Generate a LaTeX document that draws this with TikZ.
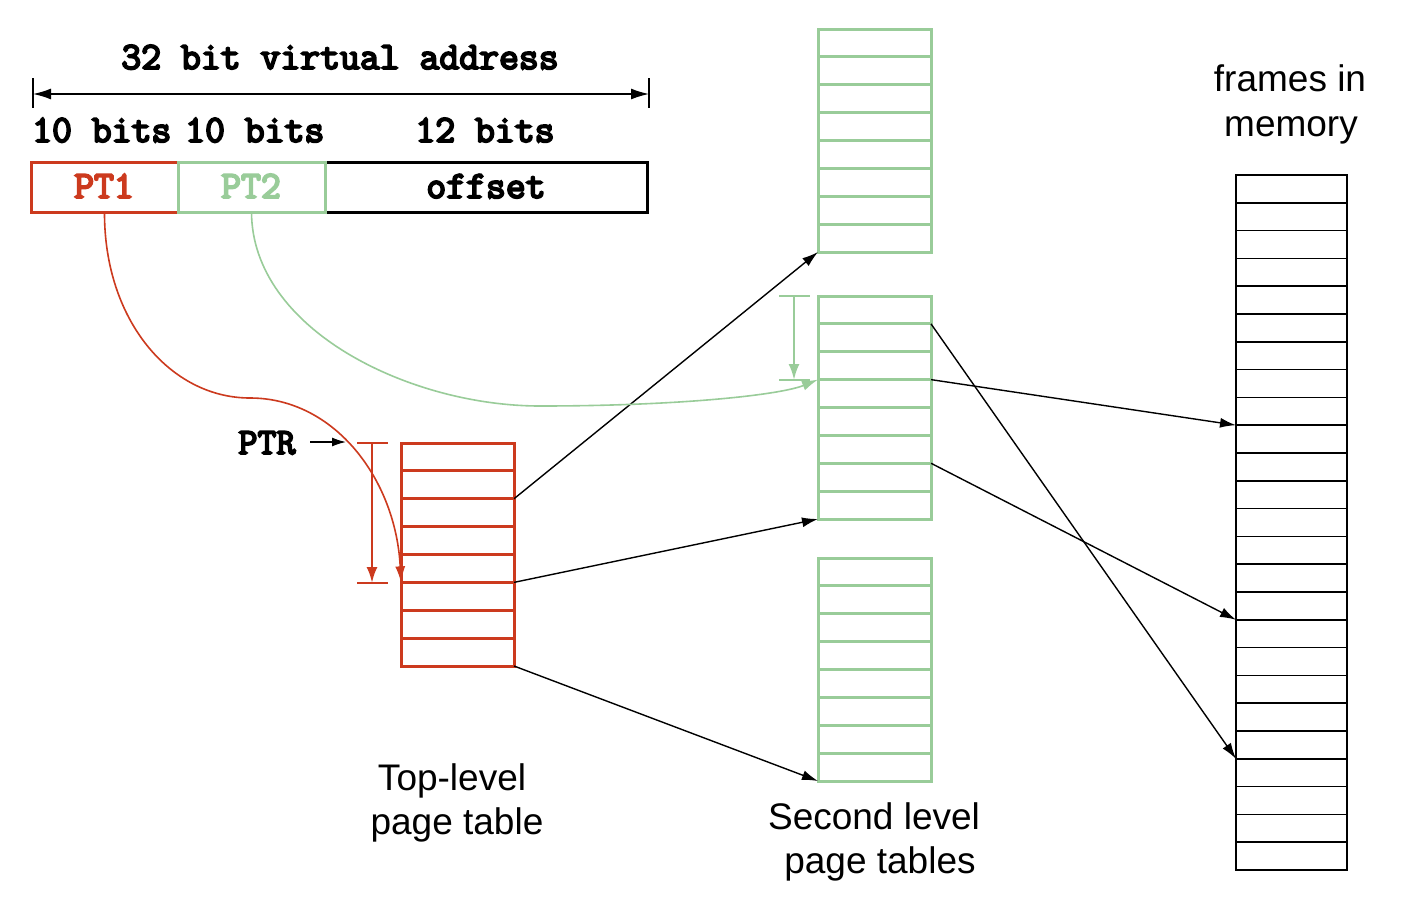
\documentclass[tikz,border=0pt]{standalone}
\usepackage{fontspec}
\setmainfont{Liberation Sans}
\newfontfamily\monofam[AutoFakeBold=5]{Latin Modern Mono}
\usetikzlibrary{arrows.meta,calc}
\definecolor{ptred}{RGB}{204,58,30}
\definecolor{ptgreen}{RGB}{153,204,153}
\tikzset{
  tabbox/.style={draw,line width=3pt,minimum width=113pt,anchor=north west,inner sep=0pt,outer sep=0pt},
  redtab/.style={tabbox,draw=ptred,minimum height=223pt},
  greentab/.style={tabbox,draw=ptgreen,minimum height=223pt},
  frametab/.style={draw=black,line width=2pt,minimum width=111pt,minimum height=695pt,anchor=north west,inner sep=0pt,outer sep=0pt},
  conn/.style={draw=black,line width=1.4pt,-{Latex[length=16pt,width=10pt]}},
  monotxt/.style={font=\monofam\bfseries\fontsize{38.6}{44}\selectfont,inner sep=0pt,anchor=base},
  sanstxt/.style={font=\fontsize{37}{44}\selectfont,inner sep=0pt,anchor=base},
  fieldbox/.style={draw,line width=3pt,minimum height=50pt,anchor=north west,inner sep=0pt,outer sep=0pt},
}
\begin{document}
\begin{tikzpicture}[x=1pt,y=-1pt]
\useasboundingbox[fill=white] (0,0) rectangle (1402,902);

% --- address format ---
\node[monotxt] (title) at (340,69) {32 bit virtual address};
\coordinate (dl) at (33,94);
\coordinate (dr) at (649,94);
\draw[line width=1.4pt] (33,78) -- (33,108) (649,78) -- (649,108);
\draw[line width=1.4pt,{Latex[length=18pt,width=11pt]}-{Latex[length=18pt,width=11pt]}] (dl) -- (dr);
\node[monotxt,anchor=base west] (b1) at (32,142) {10 bits};
\node[monotxt,anchor=base west] (b2) at (185,142) {10 bits};
\node[monotxt] (b3) at (485,142) {12 bits};

\node[fieldbox,draw=black,minimum width=322pt] (off) at (325,162) {};
\node[fieldbox,draw=ptred,minimum width=147pt] (pt1) at (31,162) {};
\node[fieldbox,draw=ptgreen,minimum width=147pt] (pt2) at (178,162) {};
\node[monotxt,text=ptred] (pt1t) at (104,198) {PT1};
\node[monotxt,text=ptgreen] (pt2t) at (251,198) {PT2};
\node[monotxt] (offt) at (486,198) {offset};

% --- tables ---
\node[redtab] (top) at (401,443) {};
\foreach \i in {1,...,7}
  \draw[ptred,line width=3pt] ($(top.north west)!\i/8!(top.south west)$) -- ($(top.north east)!\i/8!(top.south east)$);

\foreach \n/\y in {s1/29,s2/296,s3/558}{
  \node[greentab] (\n) at (818,\y) {};
  \foreach \i in {1,...,7}
    \draw[ptgreen,line width=3pt] ($(\n.north west)!\i/8!(\n.south west)$) -- ($(\n.north east)!\i/8!(\n.south east)$);
}

\node[frametab] (fr) at (1236,175) {};
\foreach \i in {1,...,24}
  \draw[black,line width=1.6pt] ($(fr.north west)!\i/25!(fr.south west)$) -- ($(fr.north east)!\i/25!(fr.south east)$);

% --- named points ---
\coordinate (top2) at ($(top.north east)!2/8!(top.south east)$);
\coordinate (top5) at ($(top.north east)!5/8!(top.south east)$);
\coordinate (topL5) at ($(top.north west)!5/8!(top.south west)$);
\coordinate (s2r1) at ($(s2.north east)!1/8!(s2.south east)$);
\coordinate (s2r3) at ($(s2.north east)!3/8!(s2.south east)$);
\coordinate (s2r6) at ($(s2.north east)!6/8!(s2.south east)$);
\coordinate (s2l3) at ($(s2.north west)!3/8!(s2.south west)$);
\coordinate (fr9) at ($(fr.north west)!9/25!(fr.south west)$);
\coordinate (fr16) at ($(fr.north west)!16/25!(fr.south west)$);
\coordinate (fr21) at ($(fr.north west)!21/25!(fr.south west)$);

% --- connectors ---
\draw[conn] (top2) -- (s1.south west);
\draw[conn] (top5) -- (s2.south west);
\draw[conn] (top.south east) -- (s3.south west);
\draw[conn] (s2r1) -- (fr21);
\draw[conn] (s2r3) -- (fr9);
\draw[conn] (s2r6) -- (fr16);

% --- PT1 / PT2 curves ---
\draw[ptred,line width=1.6pt,-{Latex[length=16pt,width=10pt]}] (pt1.south) .. controls (104,320) and (170,398) .. (250,398) .. controls (335,398) and (396,480) .. (topL5);
\draw[ptgreen,line width=1.6pt,-{Latex[length=16pt,width=10pt]}] (pt2.south) .. controls (252,330) and (410,406) .. (540,406) .. controls (680,406) and (780,395) .. (s2l3);

% --- offset interval markers ---
\draw[ptred,line width=2.5pt] (357,443) -- (388,443) (357,583) -- (388,583);
\coordinate (ri1) at (372,443);
\coordinate (ri2) at (372,583);
\draw[ptred,line width=2.5pt,-{Latex[length=16pt,width=11pt]}] (ri1) -- (ri2);
\draw[ptgreen,line width=2.5pt] (779,296) -- (810,296) (779,380) -- (810,380);
\coordinate (gi1) at (794,296);
\coordinate (gi2) at (794,380);
\draw[ptgreen,line width=2.5pt,-{Latex[length=16pt,width=11pt]}] (gi1) -- (gi2);

% --- PTR ---
\node[monotxt,font=\monofam\bfseries\fontsize{37}{40}\selectfont] (ptr) at (267,454) {PTR};
\coordinate (ptrs) at (310,442);
\coordinate (ptre) at (346,442);
\draw[line width=1.4pt,-{Latex[length=14pt,width=9pt]}] (ptrs) -- (ptre);

% --- labels ---
\node[sanstxt] (fm1) at (1290,91) {frames in};
\node[sanstxt] (fm2) at (1291,136) {memory};
\node[sanstxt] (tl1) at (452,790) {Top-level};
\node[sanstxt] (tl2) at (457,834) {page table};
\node[sanstxt] (sl1) at (874,829) {Second level};
\node[sanstxt] (sl2) at (880,873) {page tables};
\end{tikzpicture}
\end{document}
